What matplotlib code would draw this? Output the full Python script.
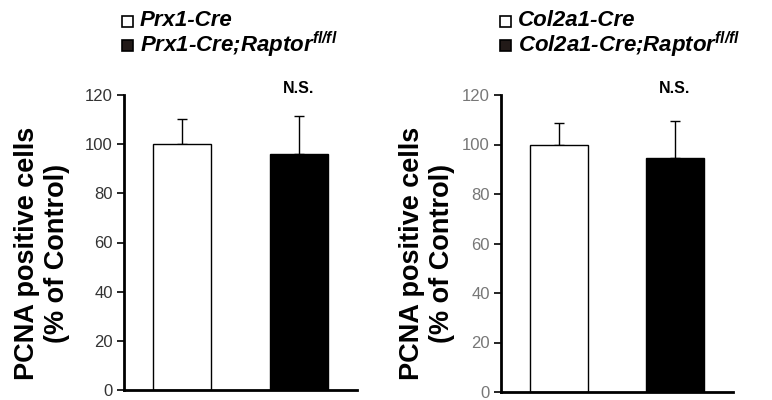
import matplotlib
matplotlib.use("Agg")
import matplotlib.pyplot as plt
from matplotlib.patches import Rectangle

plt.rcParams['font.family'] = ['Liberation Sans', 'DejaVu Sans']
plt.rcParams['mathtext.fontset'] = 'custom'
plt.rcParams['mathtext.rm'] = 'Liberation Sans:bold:italic'
plt.rcParams['mathtext.it'] = 'Liberation Sans:bold:italic'
plt.rcParams['mathtext.bf'] = 'Liberation Sans:bold:italic'

# Data
left_groups = ["Prx1-Cre", "Prx1-Cre;Raptor"]
left_means = [100.0, 95.8]
left_err = [10.1, 15.8]

right_groups = ["Col2a1-Cre", "Col2a1-Cre;Raptor"]
right_means = [100.0, 94.7]
right_err = [8.6, 14.9]

yticks = [0, 20, 40, 60, 80, 100, 120]
ylabel = "PCNA positive cells\n(% of Control)"
sig_label = "N.S."

fig = plt.figure(figsize=(7.72, 4.0), dpi=100)

def panel(rect, means, errs, tickcolor, ylab_x, leg_x, names, sq_x):
    ax = fig.add_axes(rect)
    x = [0, 1]
    ax.bar(x, means, width=0.5, color=["white", "black"], edgecolor="black", linewidth=1.0, zorder=2)
    ax.errorbar(x, means, yerr=[[0, 0], errs], fmt="none", ecolor="black",
                elinewidth=1.0, capsize=3.5, capthick=1.0, zorder=1)
    ax.set_xlim(-0.5, 1.5)
    ax.set_ylim(0, 120)
    ax.set_yticks(yticks)
    ax.set_xticks([])
    for s in ["top", "right"]:
        ax.spines[s].set_visible(False)
    ax.spines["left"].set_linewidth(2.0)
    ax.spines["bottom"].set_linewidth(2.0)
    ax.tick_params(axis="y", direction="out", length=5, width=1.2, labelsize=12,
                   labelcolor=tickcolor, pad=3)
    ax.text(1, 122.5, sig_label, ha="center", va="center", fontsize=11.5, fontweight="bold",
            clip_on=False)
    fig.text(ylab_x, 0.3675, ylabel, rotation=90, ha="center", va="center",
             fontsize=19.5, fontweight="bold", linespacing=1.2)
    # legend
    for i, (nm, fc) in enumerate(zip(names, ["white", "#221a18"])):
        yc = 1 - (21 + 24 * i) / 400
        sq = Rectangle((sq_x / 772, yc - 5.5 / 400), 11 / 772, 11 / 400, transform=fig.transFigure,
                       facecolor=fc, edgecolor="black", linewidth=1.2)
        fig.patches.append(sq)
        txt = nm
        if i == 1:
            txt = nm + r"$^{fl/fl}$"
        fig.text(leg_x / 772, yc, txt, ha="left", va="center", fontsize=16,
                 fontweight="bold", fontstyle="italic")
    return ax

panel([124 / 772, 10 / 400, 233 / 772, 295 / 400], left_means, left_err, "#333333",
      0.055, 140, left_groups, 122)
panel([501 / 772, 8 / 400, 232 / 772, 297 / 400], right_means, right_err, "#777777",
      0.5535, 518, right_groups, 500)

fig.savefig("out.png", dpi=100)
